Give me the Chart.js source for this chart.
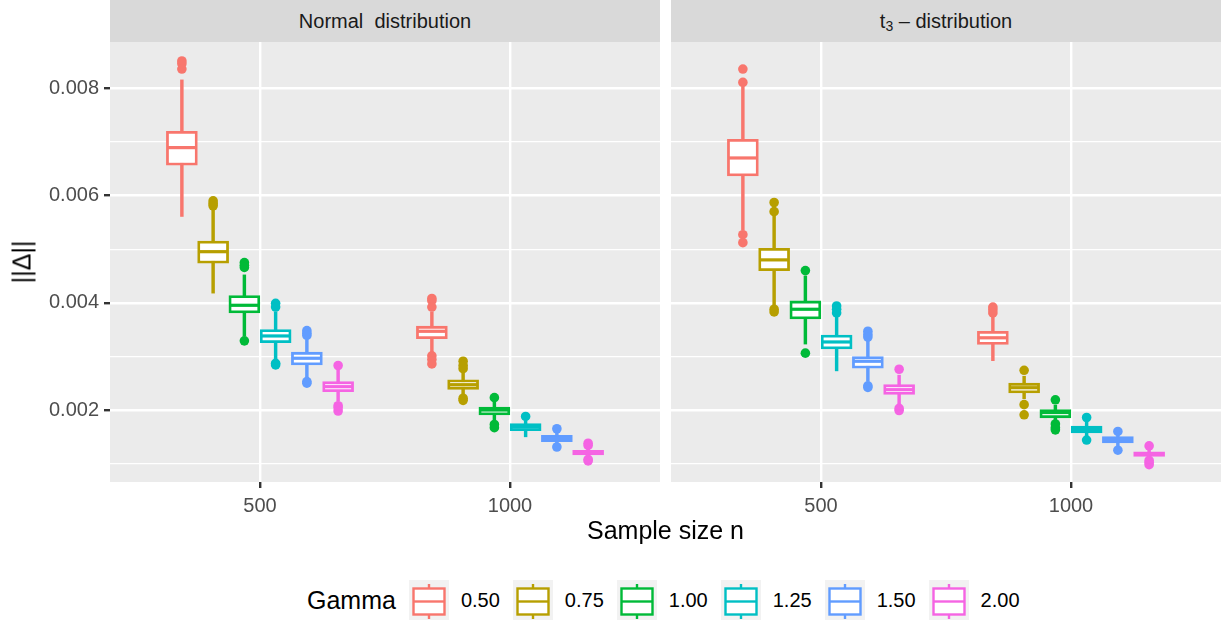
<!DOCTYPE html>
<html>
<head>
<meta charset="utf-8">
<script src="https://cdn.jsdelivr.net/npm/chart.js@4.4.1/dist/chart.umd.min.js"></script>
<style>
    body { margin: 0; width: 1228px; height: 622px; background: #fff; position: relative; overflow: hidden; font-family: "Liberation Sans", Arial, sans-serif; }
    .strip { position: absolute; top: 0; height: 42px; width: 550px; background: #d9d9d9; color: #1a1a1a; font-size: 20px; line-height: 42px; text-align: center; }
    .strip sub { font-size: 14px; vertical-align: -3px; line-height: 0; }
    canvas { position: absolute; top: 42px; }
    #yTitle { position: absolute; left: 22px; top: 262px; transform: translate(-50%, -50%) rotate(-90deg); font-size: 25px; white-space: nowrap; }
    #xTitle { position: absolute; left: 110px; width: 1111px; top: 515px; line-height: 30px; text-align: center; font-size: 25px; }
    #legend { position: absolute; left: 307px; top: 580px; height: 40px; display: flex; align-items: center; font-size: 20px; }
    #legend .title { font-size: 25px; margin-right: 13px; }
    #legend svg { display: block; margin-right: 12px; }
    #legend .lab { margin-right: 13px; }
</style>
</head>
<body>
<div class="strip" style="left:110px">Normal&nbsp; distribution</div>
<div class="strip" style="left:671px">t<sub>3</sub> – distribution</div>
<canvas id="normalChart" width="660" height="480" style="left:0"></canvas>
<canvas id="tChart" width="550" height="480" style="left:671px"></canvas>
<div id="yTitle">||Δ||</div>
<div id="xTitle">Sample size n</div>
<div id="legend"><span class="title">Gamma</span></div>
<script>
const gammaLabels = ['0.50', '0.75', '1.00', '1.25', '1.50', '2.00'];
const gammaColors = ['#F8766D', '#B79F00', '#00BA38', '#00BFC4', '#619CFF', '#F564E3'];
const sampleSizes = ['500', '1000'];
const yTickValues = [0.002, 0.004, 0.006, 0.008];
const yTickLabels = ['0.002', '0.004', '0.006', '0.008'];
const yMinorValues = [0.001, 0.003, 0.005, 0.007];
const yRange = [0.000657, 0.008864];

// rows: n = 500, n = 1000; columns follow gammaLabels
const normalLower = [
    [0.00561, 0.00418, 0.00338, 0.00295, 0.00260, 0.00217],
    [0.00308, 0.00228, 0.00181, 0.00150, 0.00137, 0.00112],
];
const normalQ1 = [
    [0.006565, 0.004737, 0.00381, 0.003254, 0.00284, 0.002341],
    [0.00333, 0.002386, 0.001907, 0.001614, 0.001409, 0.00116],
];
const normalMedian = [
    [0.006894, 0.004953, 0.003953, 0.003381, 0.002965, 0.002435],
    [0.003468, 0.002472, 0.002, 0.001683, 0.001468, 0.001203],
];
const normalQ3 = [
    [0.0072, 0.005153, 0.004133, 0.003502, 0.003078, 0.002528],
    [0.003563, 0.002565, 0.002056, 0.001746, 0.001528, 0.001248],
];
const normalUpper = [
    [0.008157, 0.00573, 0.00452, 0.00383, 0.00331, 0.00275],
    [0.00383, 0.00269, 0.00215, 0.00180, 0.00160, 0.00131],
];
const normalOutliers = [
    [[0.00851, 0.00846, 0.00836], [0.00590, 0.00585, 0.00581], [0.00475, 0.00470, 0.00466, 0.00329],
     [0.00399, 0.00392, 0.00287, 0.00284], [0.00348, 0.00343, 0.00339, 0.00253, 0.00250], [0.00283, 0.00208, 0.00204, 0.00198]],
    [[0.00408, 0.00404, 0.00392, 0.00301, 0.00294, 0.00286], [0.00291, 0.00283, 0.00277, 0.00222, 0.00218], [0.00223, 0.00173, 0.00167],
     [0.00188], [0.00165, 0.00131], [0.00138, 0.00134, 0.00108, 0.00105]],
];

const tLower = [
    [0.005358, 0.00396, 0.00323, 0.00273, 0.00254, 0.00211],
    [0.00292, 0.00221, 0.00180, 0.00150, 0.00132, 0.00110],
];
const tQ1 = [
    [0.006366, 0.004599, 0.003698, 0.003138, 0.002778, 0.002289],
    [0.003222, 0.002317, 0.001854, 0.001571, 0.001384, 0.001136],
];
const tMedian = [
    [0.006701, 0.0048, 0.003879, 0.003269, 0.002909, 0.002379],
    [0.003347, 0.002416, 0.001953, 0.001636, 0.00144, 0.001179],
];
const tQ3 = [
    [0.00705, 0.005017, 0.004034, 0.003399, 0.002995, 0.002472],
    [0.003468, 0.0025, 0.002009, 0.001701, 0.001502, 0.001222],
];
const tUpper = [
    [0.00803, 0.00564, 0.00450, 0.00374, 0.00329, 0.00265],
    [0.00374, 0.00263, 0.00209, 0.00178, 0.00155, 0.00128],
];
const tOutliers = [
    [[0.00836, 0.00811, 0.00527, 0.00512], [0.00587, 0.00570, 0.00388, 0.00383], [0.00460, 0.00306],
     [0.00394, 0.00388, 0.00381], [0.00347, 0.00341, 0.00336, 0.00245, 0.00242], [0.00276, 0.00203, 0.00199]],
    [[0.00392, 0.00387, 0.00381], [0.00274, 0.00210, 0.00191], [0.00219, 0.00174, 0.00167, 0.00163],
     [0.00186, 0.00144], [0.00160, 0.00125], [0.00133, 0.00106, 0.00102, 0.00098]],
];

const FONT = 'Liberation Sans';
const DODGE = 0.75;
const GRID = 2.4;
const STROKE = 2.8;
Chart.defaults.font.family = FONT;

const isMajor = (v) => yTickValues.some((t) => Math.abs(t - v) < 1e-9);

const panelBackground = {
    id: 'panelBackground',
    beforeDraw(chart) {
        const { ctx, chartArea: a } = chart;
        ctx.save();
        ctx.fillStyle = '#ebebeb';
        ctx.fillRect(a.left, a.top, a.width, a.height);
        ctx.restore();
    },
};

function boxDatasets(lower, q1, median, q3, upper, outliers) {
    const sets = [];
    const sizes = sampleSizes.map((_, si) => si);
    gammaLabels.forEach((gamma, gi) => {
        const color = gammaColors[gi];
        const pos = (si) => si + 1 + (gi - (gammaLabels.length - 1) / 2) * DODGE / gammaLabels.length;
        sets.push({
            type: 'bar', label: gamma, order: 4, grouped: false, barThickness: STROKE,
            data: sizes.map((si) => ({ x: pos(si), y: [lower[si][gi], upper[si][gi]] })),
            backgroundColor: color, borderWidth: 0,
        });
        sets.push({
            type: 'bar', label: gamma, order: 3, grouped: false, barThickness: 31,
            data: sizes.map((si) => ({ x: pos(si), y: [q1[si][gi], q3[si][gi]] })),
            backgroundColor: '#ffffff', borderColor: color, borderWidth: STROKE, borderSkipped: false,
        });
        sets.push({
            type: 'scatter', label: gamma, order: 2,
            data: sizes.map((si) => ({ x: pos(si), y: median[si][gi] })),
            pointStyle: 'line', pointRadius: 14.3, pointBorderColor: color, pointBorderWidth: 3.2,
        });
        sets.push({
            type: 'scatter', label: gamma, order: 1,
            data: sizes.flatMap((si) => outliers[si][gi].map((v) => ({ x: pos(si), y: v }))),
            pointRadius: 4.8, pointBackgroundColor: color, pointBorderWidth: 0,
        });
    });
    return sets;
}

function makeChart(canvasId, datasets, showY) {
    return new Chart(document.getElementById(canvasId), {
        type: 'bar',
        data: { datasets },
        plugins: [panelBackground],
        options: {
            responsive: false,
            animation: false,
            events: [],
            layout: { padding: 0, autoPadding: false },
            plugins: { legend: { display: false }, tooltip: { enabled: false } },
            scales: {
                x: {
                    type: 'linear', min: 0.4, max: 2.6, offset: false, bounds: 'data',
                    afterBuildTicks: (s) => { s.ticks = sampleSizes.map((_, i) => ({ value: i + 1 })); },
                    afterFit: (s) => { s.height = 40; s.paddingLeft = 0; s.paddingRight = 0; },
                    ticks: { autoSkip: false, maxRotation: 0, padding: 6, color: '#4d4d4d', font: { size: 20 }, callback: (v, i) => sampleSizes[i] },
                    grid: { offset: false, color: '#ffffff', lineWidth: GRID, tickLength: 6, tickWidth: GRID, tickColor: '#333333' },
                    border: { display: false },
                },
                y: {
                    type: 'linear', min: yRange[0], max: yRange[1], bounds: 'data', stacked: false,
                    afterBuildTicks: (s) => {
                        s.ticks = [...yMinorValues, ...yTickValues].sort((a, b) => a - b).map((v) => ({ value: v }));
                    },
                    afterFit: (s) => { s.width = showY ? 110 : 0; s.paddingTop = 0; s.paddingBottom = 0; },
                    ticks: {
                        display: showY, autoSkip: false, padding: 5, color: '#4d4d4d', font: { size: 20 },
                        callback: (v) => { const i = yTickValues.findIndex((t) => Math.abs(t - v) < 1e-9); return i < 0 ? '' : yTickLabels[i]; },
                    },
                    grid: {
                        color: '#ffffff',
                        lineWidth: (ctx) => (ctx.tick && isMajor(ctx.tick.value) ? GRID : GRID / 2),
                        drawTicks: showY, tickLength: 6, tickWidth: GRID,
                        tickColor: (ctx) => (ctx.tick && isMajor(ctx.tick.value) ? '#333333' : 'rgba(0,0,0,0)'),
                    },
                    border: { display: false },
                },
            },
        },
    });
}

function buildLegend() {
    const legend = document.getElementById('legend');
    gammaLabels.forEach((gamma, gi) => {
        const c = gammaColors[gi];
        legend.insertAdjacentHTML('beforeend',
            `<svg width="40" height="40" viewBox="0 0 40 40">
                <rect x="0" y="0" width="40" height="40" fill="#f2f2f2"/>
                <line x1="20" y1="4" x2="20" y2="8.5" stroke="${c}" stroke-width="${GRID}"/>
                <line x1="20" y1="34.5" x2="20" y2="39" stroke="${c}" stroke-width="${GRID}"/>
                <rect x="4.5" y="8.5" width="31" height="26" fill="#fff" stroke="${c}" stroke-width="${GRID}"/>
                <line x1="4.5" y1="21.5" x2="35.5" y2="21.5" stroke="${c}" stroke-width="${GRID}"/>
            </svg><span class="lab">${gamma}</span>`);
    });
}

document.addEventListener('DOMContentLoaded', () => {
    makeChart('normalChart', boxDatasets(normalLower, normalQ1, normalMedian, normalQ3, normalUpper, normalOutliers), true);
    makeChart('tChart', boxDatasets(tLower, tQ1, tMedian, tQ3, tUpper, tOutliers), false);
    buildLegend();
});
</script>
</body>
</html>
